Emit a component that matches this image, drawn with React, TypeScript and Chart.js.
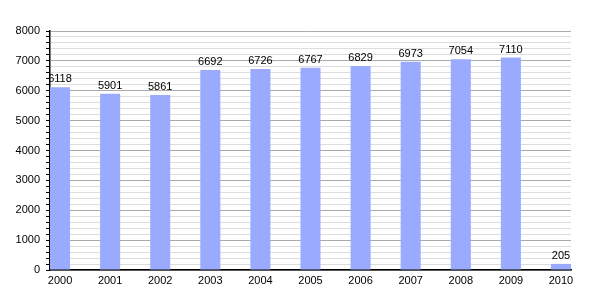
import React, { useEffect, useRef } from "react";
import { Chart, registerables } from "chart.js";

Chart.register(...registerables);

const years = [2000, 2001, 2002, 2003, 2004, 2005, 2006, 2007, 2008, 2009, 2010];
const values = [6118, 5901, 5861, 6692, 6726, 6767, 6829, 6973, 7054, 7110, 205];
const yTicks = [0, 1000, 2000, 3000, 4000, 5000, 6000, 7000, 8000];

const FONT = "'Liberation Sans', Arial, sans-serif";

const valueLabels = {
  id: "valueLabels",
  afterDatasetsDraw(chart: any) {
    const ctx = chart.ctx;
    const meta = chart.getDatasetMeta(0);
    ctx.save();
    ctx.font = `11px ${FONT}`;
    ctx.fillStyle = "#000";
    ctx.textAlign = "center";
    ctx.textBaseline = "alphabetic";
    meta.data.forEach((bar: any, i: number) => {
      ctx.fillText(String(values[i]), bar.x, bar.y - 5);
    });
    ctx.restore();
  },
};

export default function App() {
  const ref = useRef<HTMLCanvasElement>(null);
  useEffect(() => {
    document.body.style.margin = "0";
    const chart = new Chart(ref.current!, {
      type: "bar",
      data: {
        datasets: [
          {
            data: years.map((y, i) => ({ x: y, y: values[i] })),
            backgroundColor: "#99aaff",
            borderWidth: 0,
            barPercentage: 0.8,
            categoryPercentage: 0.5,
          },
        ],
      },
      options: {
        animation: false,
        responsive: false,
        maintainAspectRatio: false,
        layout: { padding: { left: 0, right: 29, top: 31, bottom: 0 } },
        plugins: { legend: { display: false }, tooltip: { enabled: false } },
        scales: {
          x: {
            type: "linear",
            offset: false,
            min: years[0] - 0.2,
            max: years[years.length - 1] + 0.2,
            afterBuildTicks: (scale: any) => {
              scale.ticks = years.map((v) => ({ value: v }));
            },
            afterFit: (scale: any) => {
              scale.height = 30;
            },
            grid: { display: false, drawTicks: false, offset: false },
            border: { display: true, color: "#000", width: 1.5 },
            ticks: {
              padding: 4,
              color: "#000",
              font: { family: FONT, size: 11 },
              callback: (v: any) => String(v),
              maxRotation: 0,
              autoSkip: false,
            },
          },
          y: {
            min: 0,
            max: 8000,
            afterBuildTicks: (scale: any) => {
              const t: any[] = [];
              for (let v = 0; v <= 8000; v += 200) t.push({ value: v });
              scale.ticks = t;
            },
            afterFit: (scale: any) => {
              scale.width = 50;
            },
            border: { display: true, color: "#000", width: 1.5 },
            grid: {
              color: (c: any) =>
                c.tick && c.tick.value % 1000 === 0 ? "#aaaaaa" : "#dddddd",
              tickColor: "#000",
              tickLength: 4,
              lineWidth: 1,
            },
            ticks: {
              padding: 6,
              color: "#000",
              font: { family: FONT, size: 11 },
              autoSkip: false,
              callback: (v: any) => (yTicks.includes(v) ? String(v) : ""),
            },
          },
        },
      } as any,
      plugins: [valueLabels],
    });
    return () => chart.destroy();
  }, []);
  return (
    <div style={{ position: "fixed", left: 0, top: 0, width: 600, height: 300, background: "#fff" }}>
      <canvas ref={ref} width={600} height={300} />
    </div>
  );
}
